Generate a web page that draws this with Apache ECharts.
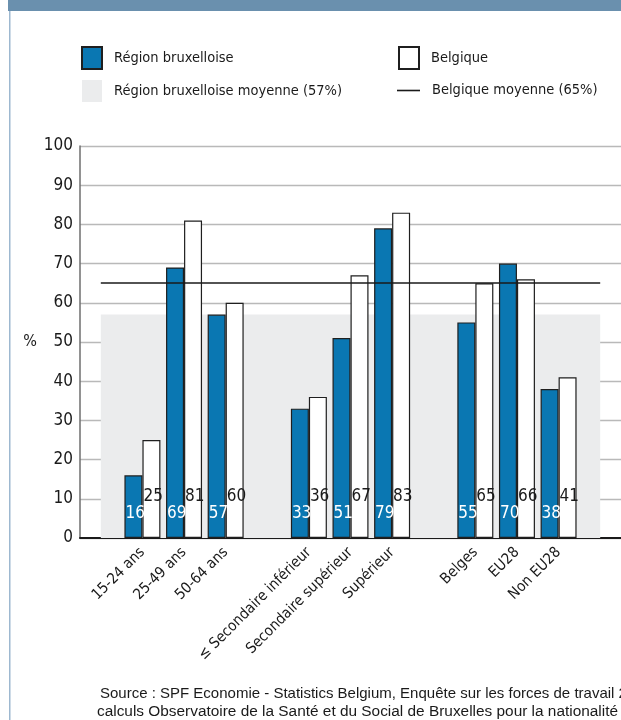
<!DOCTYPE html>
<html>
<head>
<meta charset="utf-8">
<script src="https://cdn.jsdelivr.net/npm/echarts@6/dist/echarts.min.js"></script>
<style>
  html, body { margin: 0; padding: 0; background: #ffffff; }
  #chart { width: 621px; height: 720px; }
</style>
</head>
<body>
<div id="chart"></div>
<script>
// Employment rate by age, education level and nationality
const ageCategories = ['15-24 ans', '25-49 ans', '50-64 ans'];
const eduCategories = ['≤ Secondaire inférieur', 'Secondaire supérieur', 'Supérieur'];
const natCategories = ['Belges', 'EU28', 'Non EU28'];

const bruxellesAge = [16, 69, 57];
const bruxellesEdu = [33, 51, 79];
const bruxellesNat = [55, 70, 38];

const belgiqueAge = [25, 81, 60];
const belgiqueEdu = [36, 67, 83];
const belgiqueNat = [65, 66, 41];

const bruxellesMoyenne = 57;
const belgiqueMoyenne = 65;

const yTicks = [0, 10, 20, 30, 40, 50, 60, 70, 80, 90, 100];

const sourceLines = [
  'Source : SPF Economie - Statistics Belgium, Enquête sur les forces de travail 2017,',
  'calculs Observatoire de la Santé et du Social de Bruxelles pour la nationalité'
];

// Category axis: one empty slot before, between and after each group
const groups = [
  [ageCategories, bruxellesAge, belgiqueAge],
  [eduCategories, bruxellesEdu, belgiqueEdu],
  [natCategories, bruxellesNat, belgiqueNat]
];
const axisCats = [];
const bxData = [];
const beData = [];
let spacer = ' ';
groups.forEach(([cats, bx, be]) => {
  axisCats.push(spacer); bxData.push(null); beData.push(null);
  spacer += ' ';
  cats.forEach((c, i) => { axisCats.push(c); bxData.push(bx[i]); beData.push(be[i]); });
});
axisCats.push(spacer); bxData.push(null); beData.push(null);
const lastIdx = axisCats.length - 1;

const narrow = "'Liberation Sans Narrow', 'DejaVu Sans Condensed', sans-serif";
const blue = '#0a77b2';
const edge = '#1f1f1f';
const band = '#ebeced';
const ink = '#1a1a1a';

const legendText = { fontFamily: narrow, fontSize: 14.5, color: ink, padding: [0, 0, 0, 7] };

const chart = echarts.init(document.getElementById('chart'), null, { renderer: 'canvas' });

chart.setOption({
  animation: false,
  backgroundColor: '#ffffff',
  textStyle: { fontFamily: narrow },
  grid: { left: 80, right: -1, top: 146, bottom: 182, containLabel: false },
  legend: [
    {
      left: 81, top: 46, padding: 0, orient: 'vertical', itemWidth: 20, itemHeight: 22, itemGap: 10,
      selectedMode: false, textStyle: legendText,
      data: [
        { name: 'Région bruxelloise', icon: 'rect' },
        { name: 'Région bruxelloise moyenne (57%)', icon: 'rect', itemStyle: { color: band, borderWidth: 0 } }
      ]
    },
    {
      left: 398, top: 46, padding: 0, itemWidth: 20, itemHeight: 22,
      selectedMode: false, textStyle: legendText,
      data: [{ name: 'Belgique', icon: 'rect' }]
    },
    {
      left: 397, top: 83, padding: 0, itemWidth: 23, itemHeight: 1.6,
      selectedMode: false,
      textStyle: { fontFamily: narrow, fontSize: 14.5, color: ink, padding: [0, 0, 0, 7] },
      data: [{ name: 'Belgique moyenne (65%)', icon: 'rect', itemStyle: { color: ink, borderWidth: 0 } }]
    }
  ],
  xAxis: {
    type: 'category',
    data: axisCats,
    boundaryGap: true,
    axisLine: { show: true, lineStyle: { color: ink, width: 2 } },
    axisTick: { show: false },
    axisLabel: {
      interval: 0, rotate: 45, margin: 12,
      fontFamily: narrow, fontSize: 15, color: ink
    },
    splitLine: { show: false }
  },
  yAxis: {
    type: 'value',
    min: yTicks[0], max: yTicks[yTicks.length - 1], interval: 10,
    name: '%', nameLocation: 'middle', nameRotate: 0, nameGap: 43,
    nameTextStyle: { fontFamily: narrow, fontSize: 16, color: ink },
    axisLine: { show: true, lineStyle: { color: '#6e6e6e', width: 1.5 } },
    axisTick: { show: false },
    axisLabel: { margin: 7, fontFamily: narrow, fontSize: 17, color: ink },
    splitLine: { show: true, lineStyle: { color: '#b9b9b9', width: 1.3 } }
  },
  series: [
    {
      name: 'Région bruxelloise moyenne (57%)',
      type: 'line',
      data: [],
      symbol: 'none',
      itemStyle: { color: band },
      lineStyle: { color: band, width: 0 },
      z: 1,
      markArea: {
        silent: true,
        itemStyle: { color: band },
        data: [[{ xAxis: 0, yAxis: 0 }, { xAxis: lastIdx, yAxis: bruxellesMoyenne }]]
      }
    },
    {
      name: 'Région bruxelloise',
      type: 'bar',
      data: bxData,
      barWidth: 18,
      barGap: '0%',
      z: 3,
      itemStyle: { color: blue, borderColor: edge, borderWidth: 1.2 },
      label: {
        show: true, position: [1, '100%'], offset: [0, -24],
        align: 'left', verticalAlign: 'middle',
        fontFamily: narrow, fontSize: 17, color: '#ffffff'
      }
    },
    {
      name: 'Belgique',
      type: 'bar',
      data: beData,
      barWidth: 18,
      z: 3,
      itemStyle: { color: '#ffffff', borderColor: edge, borderWidth: 1.2 },
      label: {
        show: true, position: [1, '100%'], offset: [0, -41],
        align: 'left', verticalAlign: 'middle',
        fontFamily: narrow, fontSize: 17, color: ink
      }
    },
    {
      name: 'Belgique moyenne (65%)',
      type: 'line',
      data: [],
      symbol: 'none',
      itemStyle: { color: ink },
      lineStyle: { color: ink, width: 1.6 },
      z: 4,
      markLine: {
        silent: true,
        symbol: ['none', 'none'],
        label: { show: false },
        lineStyle: { color: ink, width: 1.6, type: 'solid' },
        data: [[{ coord: [0, belgiqueMoyenne] }, { coord: [lastIdx, belgiqueMoyenne] }]]
      }
    }
  ],
  graphic: [
    { type: 'rect', left: 8, top: 0, shape: { width: 613, height: 11 }, style: { fill: '#6a90ae' }, silent: true },
    { type: 'rect', left: 9, top: 11, shape: { width: 1.5, height: 709 }, style: { fill: '#9db8d0' }, silent: true },
    {
      type: 'text', left: 100, top: 686, silent: true,
      style: { text: sourceLines[0], fill: ink, font: "15px 'Liberation Sans', sans-serif" }
    },
    {
      type: 'text', left: 97, top: 704, silent: true,
      style: { text: sourceLines[1], fill: ink, font: "15.4px 'Liberation Sans', sans-serif" }
    }
  ]
});
</script>
</body>
</html>
